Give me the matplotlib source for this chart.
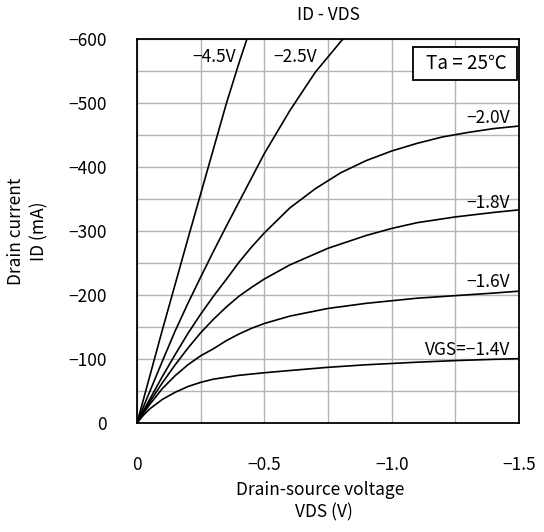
import matplotlib
matplotlib.use("Agg")
import matplotlib.pyplot as plt
from matplotlib.patches import Rectangle
import numpy as np

#=============== DADOS ===============#
# valores: VDS (V) x ID (mA) para cada VGS
vds_14 = [0, -0.025, -0.05, -0.1, -0.15, -0.2, -0.25, -0.3, -0.4, -0.5, -0.6, -0.75, -0.9, -1.0, -1.1, -1.25, -1.4, -1.5]
id_14 = [0, -12, -22, -37, -48, -57, -63.5, -68.5, -74.5, -78.5, -82, -87, -91, -93, -95, -97.5, -99.5, -100.5]

vds_16 = [0, -0.025, -0.05, -0.1, -0.15, -0.2, -0.25, -0.3, -0.35, -0.4, -0.45, -0.5, -0.6, -0.75, -0.9, -1.0, -1.1, -1.25, -1.4, -1.5]
id_16 = [0, -15, -29, -54, -74, -91, -105, -116, -128.5, -139, -148, -155.5, -167, -179, -187, -191, -195, -199, -203, -206]

vds_18 = [0, -0.025, -0.05, -0.1, -0.15, -0.2, -0.25, -0.3, -0.35, -0.4, -0.45, -0.5, -0.6, -0.75, -0.9, -1.0, -1.1, -1.25, -1.4, -1.5]
id_18 = [0, -17, -33, -63, -91, -117, -141, -162, -181, -198, -212, -225, -247, -273, -293, -304, -313, -322, -329, -333]

vds_20 = [0, -0.025, -0.05, -0.1, -0.15, -0.2, -0.25, -0.3, -0.35, -0.4, -0.45, -0.5, -0.6, -0.7, -0.8, -0.9, -1.0, -1.1, -1.2, -1.3, -1.4, -1.5]
id_20 = [0, -19, -37, -73, -107, -140, -170, -198, -224, -251, -275, -297, -336, -366, -391, -410, -425, -437, -447, -454, -460, -464]

vds_25 = [0, -0.025, -0.05, -0.1, -0.15, -0.2, -0.25, -0.3, -0.35, -0.4, -0.5, -0.6, -0.7, -0.8, -0.85]
id_25 = [0, -25, -49, -97, -144, -187, -228, -268, -307, -345, -421, -488, -548, -596, -618]

vds_45 = [0, -0.05, -0.1, -0.15, -0.2, -0.25, -0.3, -0.35, -0.4, -0.45]
id_45 = [0, -73, -146, -217, -288, -358, -428, -498, -562, -622]

curvas = [(vds_14, id_14), (vds_16, id_16), (vds_18, id_18),
          (vds_20, id_20), (vds_25, id_25), (vds_45, id_45)]

# rótulos dos eixos
x_ticks = [0, -0.5, -1.0, -1.5]
x_tick_labels = ["0", "−0.5", "−1.0", "−1.5"]
y_ticks = [0, -100, -200, -300, -400, -500, -600]
y_tick_labels = ["0", "−100", "−200", "−300", "−400", "−500", "−600"]

# rótulos das curvas (texto, x, y, alinhamento)
rotulos = [
    ("VGS=−1.4V", -1.465, -114, "right"),
    ("−1.6V", -1.465, -220, "right"),
    ("−1.8V", -1.465, -344, "right"),
    ("−2.0V", -1.465, -477, "right"),
    ("−2.5V", -0.535, -572, "left"),
    ("−4.5V", -0.389, -572, "right"),
]
#=============== FIM DADOS ===============#

#=============== PLOT ===============#
plt.rcParams['font.family'] = ['Noto Sans CJK JP', 'DejaVu Sans']
fs = 12.5

fig = plt.figure(figsize=(5.44, 5.32), dpi=100)
ax = fig.add_axes([137 / 544, 1 - 423 / 532, 382 / 544, 384 / 532])

for vds, id_ in curvas:
    ax.plot(vds, id_, color="black", lw=1.2, solid_joinstyle="round")

ax.set_xlim(0, -1.5)
ax.set_ylim(0, -600)

# grade a cada 0.25 V e 50 mA
ax.set_xticks(x_ticks)
ax.set_xticklabels(x_tick_labels, fontsize=fs)
ax.set_xticks(np.arange(0, -1.51, -0.25), minor=True)
ax.set_yticks(y_ticks)
ax.set_yticklabels(y_tick_labels, fontsize=fs)
ax.set_yticks(np.arange(0, -601, -50), minor=True)
ax.grid(True, which="both", color="#b4b4b4", lw=1.0)
ax.set_axisbelow(True)
ax.tick_params(which="both", length=0)
ax.tick_params(axis="x", pad=24)
ax.tick_params(axis="y", pad=22)
for s in ax.spines.values():
    s.set_linewidth(1.3)

for texto, x, y, ha in rotulos:
    ax.text(x, y, texto, fontsize=fs, ha=ha, va="center")

# caixa da temperatura
ax.add_patch(Rectangle((0.7225, 0.893), 0.2725, 0.086, transform=ax.transAxes,
                       fc="white", ec="black", lw=1.3, zorder=5))
ax.text(0.861, 0.936, "Ta = 25℃", transform=ax.transAxes, fontsize=fs + 1,
        ha="center", va="center", zorder=6)

fig.text(328 / 544, 1 - 15 / 532, "ID - VDS", fontsize=fs, ha="center", va="center")
fig.text(320 / 544, 1 - 490 / 532, "Drain-source voltage", fontsize=fs, ha="center", va="center")
fig.text(324 / 544, 1 - 512 / 532, "VDS (V)", fontsize=fs, ha="center", va="center")
fig.text(16 / 544, 1 - 231 / 532, "Drain current", fontsize=fs, ha="center", va="center", rotation=90)
fig.text(39 / 544, 1 - 231 / 532, "ID (mA)", fontsize=fs, ha="center", va="center", rotation=90)

fig.savefig("out.png", dpi=100)
#=============== FIM PLOT ===============#
